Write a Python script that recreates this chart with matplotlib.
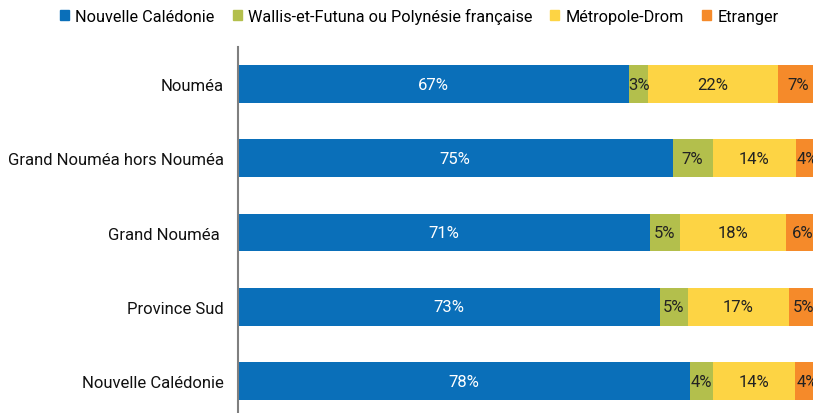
import numpy as np
import matplotlib
matplotlib.use("Agg")
import matplotlib.pyplot as plt
from matplotlib.patches import Patch

plt.rcParams['font.family'] = ['Roboto', 'DejaVu Sans']

zones = ["Nouméa", "Grand Nouméa hors Nouméa", "Grand Nouméa ", "Province Sud", "Nouvelle Calédonie"]
series = ["Nouvelle Calédonie", "Wallis-et-Futuna ou Polynésie française", "Métropole-Drom", "Etranger"]
nc = [67.3, 74.8, 70.9, 72.6, 77.8]
wf = [3.3, 6.9, 5.2, 4.8, 3.9]
metro = [22.4, 14.3, 18.3, 17.4, 14.2]
etr = [7.0, 4.0, 5.6, 5.2, 4.1]
colors = ["#0a6fb9", "#b3bf4c", "#fdd444", "#f58a2a"]
txt_colors = ["white", "#222222", "#222222", "#222222"]

fig = plt.figure(figsize=(8.13, 4.14), dpi=100)
ax = fig.add_axes([238/813, 0, 1 - 238/813, 1 - 48/414])

y = np.arange(len(zones))
left = np.zeros(len(zones))
for vals, col, tc in zip([nc, wf, metro, etr], colors, txt_colors):
    vals = np.array(vals)
    ax.barh(y, vals, left=left, height=0.51, color=col)
    for yi, l, v in zip(y, left, vals):
        ax.text(l + v / 2, yi, f"{round(v):.0f}%", ha="center", va="center",
                color=tc, fontsize=12, clip_on=True)
    left += vals

ax.set_xlim(0, 98.97)
ax.set_ylim(4.431, -0.5)
ax.set_yticks(y)
ax.set_yticklabels(zones, fontsize=12, color="#111111")
ax.tick_params(axis="y", length=0, pad=10)
ax.set_xticks([])
for s in ["top", "right", "bottom"]:
    ax.spines[s].set_visible(False)
ax.spines["left"].set_color("#7f7f7f")
ax.spines["left"].set_linewidth(1.5)
ax.spines["left"].set_zorder(5)

handles = [Patch(color=c) for c in colors]
fig.legend(handles, series, loc="upper left", bbox_to_anchor=(51/813, 1.0), ncol=4,
           frameon=False, fontsize=11.7, handlelength=0.55, handleheight=0.55,
           handletextpad=0.4, columnspacing=1.1, borderaxespad=0.15)

fig.savefig("out.png", dpi=100)
